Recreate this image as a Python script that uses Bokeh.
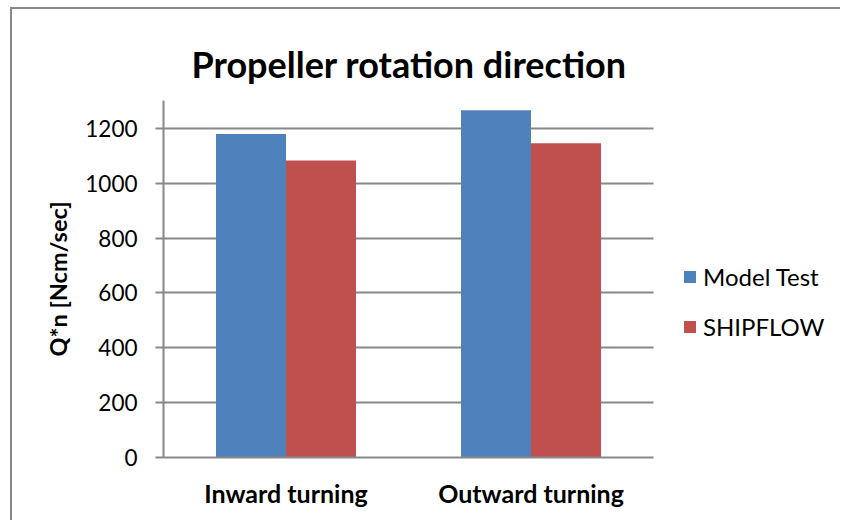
from bokeh.plotting import figure
from bokeh.models import (Range1d, FixedTicker, Legend, LegendItem,
                          ColumnDataSource)
from bokeh.embed import file_html
from bokeh.resources import INLINE

categories = ["Inward turning", "Outward turning"]
model_test = [1180, 1266]
shipflow = [1083, 1146]
y_ticks = [0, 200, 400, 600, 800, 1000, 1200]
series_names = ["Model Test", "SHIPFLOW"]
colors = ["#4F81BD", "#C0504D"]
chart_title = "Propeller rotation direction"
y_label = "Q*n [Ncm/sec]"

FONT = "Lato"
GRID = "#888888"

cat_pos = [i + 0.5 for i in range(len(categories))]
bw = 0.2857
src = ColumnDataSource(dict(x_mt=[c - bw / 2 for c in cat_pos],
                            x_sf=[c + bw / 2 for c in cat_pos],
                            mt=model_test, sf=shipflow))

p = figure(width=830, height=513, x_range=Range1d(0, 2.7714),
           y_range=Range1d(0, 1302), output_backend="svg", toolbar_location=None,
           min_border_left=151, min_border_right=0, min_border_top=91,
           min_border_bottom=65, title=chart_title)
p.styles = {"margin-left": "10px", "margin-top": "7px",
            "border-top": "2px solid #898989", "border-left": "2px solid #898989"}
p.outline_line_color = None
p.background_fill_color = "white"
p.border_fill_color = "white"

p.title.align = "left"
p.title.offset = 28
p.title.standoff = 29
p.title.text_font = FONT
p.title.text_font_style = "bold"
p.title.text_font_size = "36px"
p.title.text_color = "black"

# horizontal grid lines limited to the category area
p.xgrid.visible = False
grid_ok = False
try:
    p.ygrid[0].cross_bounds = (0, len(categories))
    p.ygrid.ticker = FixedTicker(ticks=y_ticks)
    p.ygrid.grid_line_color = GRID
    p.ygrid.grid_line_width = 2
    grid_ok = True
except Exception:
    p.ygrid.visible = False
if not grid_ok:
    gsrc = ColumnDataSource(dict(x0=[0] * len(y_ticks),
                                 x1=[len(categories)] * len(y_ticks),
                                 y=y_ticks))
    p.segment(x0="x0", x1="x1", y0="y", y1="y", source=gsrc,
              line_color=GRID, line_width=2, level="underlay")

r1 = p.vbar(x="x_mt", top="mt", width=bw, source=src,
            fill_color=colors[0], line_color=None)
r2 = p.vbar(x="x_sf", top="sf", width=bw, source=src,
            fill_color=colors[1], line_color=None)

# y axis
p.yaxis.ticker = FixedTicker(ticks=y_ticks)
p.yaxis.axis_line_color = GRID
p.yaxis.axis_line_width = 2
p.yaxis.major_tick_line_color = GRID
p.yaxis.major_tick_line_width = 2
p.yaxis.major_tick_out = 8
p.yaxis.major_tick_in = 0
p.yaxis.minor_tick_line_color = None
p.yaxis.major_label_standoff = 18
p.yaxis.major_label_text_font = FONT
p.yaxis.major_label_text_font_size = "22.5px"
p.yaxis.major_label_text_color = "black"
p.yaxis.axis_label = y_label
p.yaxis.axis_label_text_font = FONT
p.yaxis.axis_label_text_font_style = "bold"
p.yaxis.axis_label_text_font_size = "23.5px"
p.yaxis.axis_label_text_color = "black"
p.yaxis.axis_label_standoff = 10

# x axis
p.xaxis.ticker = FixedTicker(ticks=cat_pos)
p.xaxis.major_label_overrides = {c: n for c, n in zip(cat_pos, categories)}
p.xaxis.bounds = (0, len(categories))
p.xaxis.axis_line_color = GRID
p.xaxis.axis_line_width = 2
p.xaxis.major_tick_line_color = None
p.xaxis.minor_tick_line_color = None
p.xaxis.major_tick_out = 0
p.xaxis.major_tick_in = 0
p.xaxis.major_label_standoff = 20
p.xaxis.major_label_text_font = FONT
p.xaxis.major_label_text_font_style = "bold"
p.xaxis.major_label_text_font_size = "25px"
p.xaxis.major_label_text_color = "black"

legend = Legend(items=[LegendItem(label=series_names[0], renderers=[r1]),
                       LegendItem(label=series_names[1], renderers=[r2])],
                location=(519, 116), orientation="vertical")
legend.glyph_width = 15
legend.glyph_height = 15
legend.label_standoff = 6
legend.spacing = 21
legend.padding = 0
legend.margin = 0
legend.border_line_color = None
legend.background_fill_alpha = 0
legend.label_text_font = FONT
legend.label_text_font_size = "24px"
legend.label_text_color = "black"
p.add_layout(legend, "center")

open("out.html", "w").write(file_html(p, INLINE))
